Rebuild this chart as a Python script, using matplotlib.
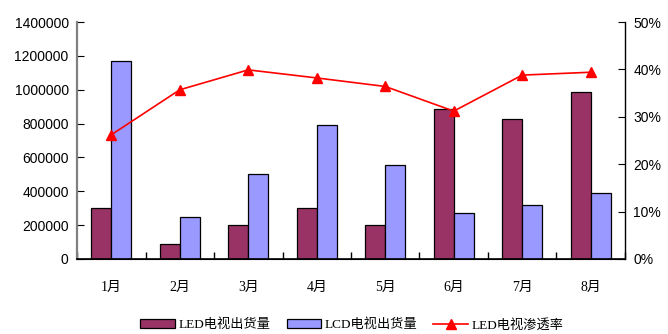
import numpy as np
import matplotlib.pyplot as plt
from matplotlib.ticker import FuncFormatter

plt.rcParams['font.family'] = ['Liberation Sans', 'Noto Sans CJK SC']

months = ['1月', '2月', '3月', '4月', '5月', '6月', '7月', '8月']
led_shipments = [300000, 90000, 200000, 300000, 200000, 884000, 829000, 986000]
lcd_shipments = [1170000, 248000, 500000, 790000, 555000, 273000, 321000, 390000]
led_share = [26.2, 35.7, 39.9, 38.2, 36.4, 31.2, 38.8, 39.4]

fig = plt.figure(figsize=(6.68, 3.34), dpi=100)
ax = fig.add_axes([0.1153, 0.2246, 0.8203, 0.7095])
ax2 = ax.twinx()

x = np.arange(len(months))
w = 0.29
ax.bar(x - w / 2, led_shipments, w, color='#993366', edgecolor='black', linewidth=0.9,
       label='LED电视出货量', zorder=2)
ax.bar(x + w / 2, lcd_shipments, w, color='#9999FF', edgecolor='black', linewidth=0.9,
       label='LCD电视出货量', zorder=2)
ax2.plot(x, led_share, color='red', marker='^', markersize=7, linewidth=1.2,
         label='LED电视渗透率')

ax.set_xlim(-0.5, len(months) - 0.5)
ax.set_ylim(0, 1400000)
ax.set_yticks(np.arange(0, 1400001, 200000))
ax.yaxis.set_major_formatter(FuncFormatter(lambda v, p: '%d' % v))
ax2.set_ylim(0, 50)
ax2.set_yticks(np.arange(0, 51, 10))
ax2.yaxis.set_major_formatter(FuncFormatter(lambda v, p: '%d%%' % v))

# category labels centred, tick marks at the boundaries
ax.set_xticks(np.arange(-0.5, len(months)), minor=False)
ax.set_xticklabels([])
ax.set_xticks(x, minor=True)
ax.set_xticklabels(months, minor=True, family=['Liberation Serif', 'Noto Sans CJK SC'], fontsize=10)
ax.tick_params(axis='x', which='minor', length=0, pad=16)
ax.tick_params(axis='x', which='major', direction='in', length=5, width=1)
ax.tick_params(axis='y', direction='in', length=5, labelsize=10, pad=6)
ax2.tick_params(axis='y', direction='in', length=5, labelsize=10, pad=6)

for a in (ax, ax2):
    a.spines['top'].set_visible(False)
ax.spines['left'].set_color('#808080')
ax.spines['left'].set_linewidth(1.6)
ax2.spines['left'].set_visible(False)
ax.spines['right'].set_visible(False)
ax2.spines['right'].set_linewidth(1)
ax.spines['bottom'].set_linewidth(1.2)

h1, l1 = ax.get_legend_handles_labels()
h2, l2 = ax2.get_legend_handles_labels()
fig.legend(h1 + h2, l1 + l2, loc='center', bbox_to_anchor=(0.527, 0.027), ncol=3,
           frameon=False, prop={'family': ['Liberation Serif', 'Noto Sans CJK SC'], 'size': 9.5},
           handlelength=2.6, handletextpad=0.3, columnspacing=1.2)

fig.savefig('out.png', dpi=100)
